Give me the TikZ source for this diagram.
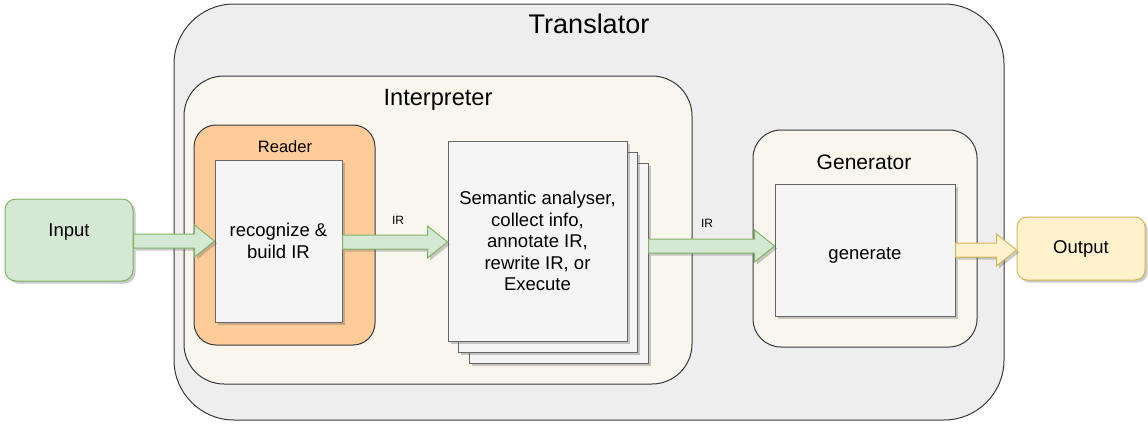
\documentclass[tikz,border=0pt]{standalone}
\usepackage{fontspec}
\setmainfont{Liberation Sans}
\usepackage{xcolor}
\usetikzlibrary{calc, shadows}

\definecolor{transfill}{HTML}{EEEEEE}
\definecolor{transdraw}{HTML}{36393D}
\definecolor{interpfill}{HTML}{F9F7ED}
\definecolor{readerfill}{HTML}{FFCC99}
\definecolor{boxfill}{HTML}{F5F5F5}
\definecolor{boxdraw}{HTML}{666666}
\definecolor{infill}{HTML}{D5E8D4}
\definecolor{indraw}{HTML}{82B366}
\definecolor{outfill}{HTML}{FFF2CC}
\definecolor{outdraw}{HTML}{D6B656}

% block arrow from #2 to #3, height taken from the target
\newcommand{\fatarrow}[3]{%
  \filldraw[#1] let \p1=(#2), \p2=(#3) in
    (\x1,\y2+7pt) -- (\x2-20pt,\y2+7pt) -- (\x2-20pt,\y2+16pt) -- (\x2,\y2)
    -- (\x2-20pt,\y2-16pt) -- (\x2-20pt,\y2-7pt) -- (\x1,\y2-7pt) -- cycle;}

\begin{document}
\begin{tikzpicture}[
    x=1pt, y=-1pt,
    every node/.style={font=\fontsize{18.5}{21.5}\selectfont, align=center},
    shade/.style={drop shadow={shadow xshift=2.5pt, shadow yshift=-2.5pt, opacity=0.35, fill=black!60}},
    group/.style={rectangle, draw=transdraw, line width=1pt, inner sep=0pt},
    proc/.style={rectangle, draw=boxdraw, fill=boxfill, line width=1pt, inner sep=0pt, shade},
    term/.style={rectangle, rounded corners=11pt, line width=1pt, inner sep=0pt, shade},
    grnarrow/.style={fill=infill, draw=indraw, line width=1pt, shade},
    ylwarrow/.style={fill=outfill, draw=outdraw, line width=1pt, shade},
    irlabel/.style={font=\fontsize{12}{14}\selectfont}
]
\useasboundingbox (0,0) rectangle (1148,423);
% nested containers
\node[group, fill=transfill, rounded corners=60pt, minimum width=830pt, minimum height=416pt] (translator) at (589,212) {};
\node[font=\fontsize{27}{30}\selectfont] (translatortitle) at (589,24) {Translator};
\node[group, fill=interpfill, rounded corners=40pt, minimum width=508pt, minimum height=308pt] (interp) at (438,230) {};
\node[font=\fontsize{23.6}{26}\selectfont] (interptitle) at (438,100) {Interpreter};
\node[group, fill=readerfill, rounded corners=22pt, minimum width=181pt, minimum height=220pt] (reader) at (284.5,235) {};
\node[font=\fontsize{16.5}{19}\selectfont] (readertitle) at (285,147) {Reader};
\node[group, fill=interpfill, rounded corners=28pt, minimum width=224pt, minimum height=217pt] (gen) at (865,238.5) {};
\node[font=\fontsize{21}{24}\selectfont] (gentitle) at (864,162) {Generator};

% processing boxes
\node[proc, minimum width=127pt, minimum height=162pt] (recog) at (278.5,241) {recognize \&\\build IR};
\node[proc, minimum width=179pt, minimum height=200pt] (semb) at (558.5,263) {};
\node[proc, minimum width=179pt, minimum height=200pt] (sema) at (548,252) {};
\node[proc, minimum width=179pt, minimum height=200pt] (sem) at (537.5,241) {Semantic analyser,\\collect info,\\annotate IR,\\rewrite IR, or\\Execute};
\node[proc, minimum width=180pt, minimum height=132pt, text height=23.5pt] (genbox) at (865,250) {generate};

% input and output
\node[term, fill=infill, draw=indraw, minimum width=128pt, minimum height=82pt, text depth=19.9pt] (input) at (69,240) {Input};
\node[term, fill=outfill, draw=outdraw, rounded corners=10pt, minimum width=128pt, minimum height=63pt] (output) at (1081,248.5) {Output};

% block arrows
\fatarrow{grnarrow}{input.east}{recog.west}
\fatarrow{grnarrow}{recog.east}{$(sem.west)+(0,1)$}
\fatarrow{grnarrow}{semb.east}{$(genbox.west)+(0,-4)$}
\fatarrow{ylwarrow}{genbox.east}{$(output.west)+(0,1.5)$}
\node[irlabel] (irone) at (398,220) {IR};
\node[irlabel] (irtwo) at (707,223) {IR};
\end{tikzpicture}
\end{document}
